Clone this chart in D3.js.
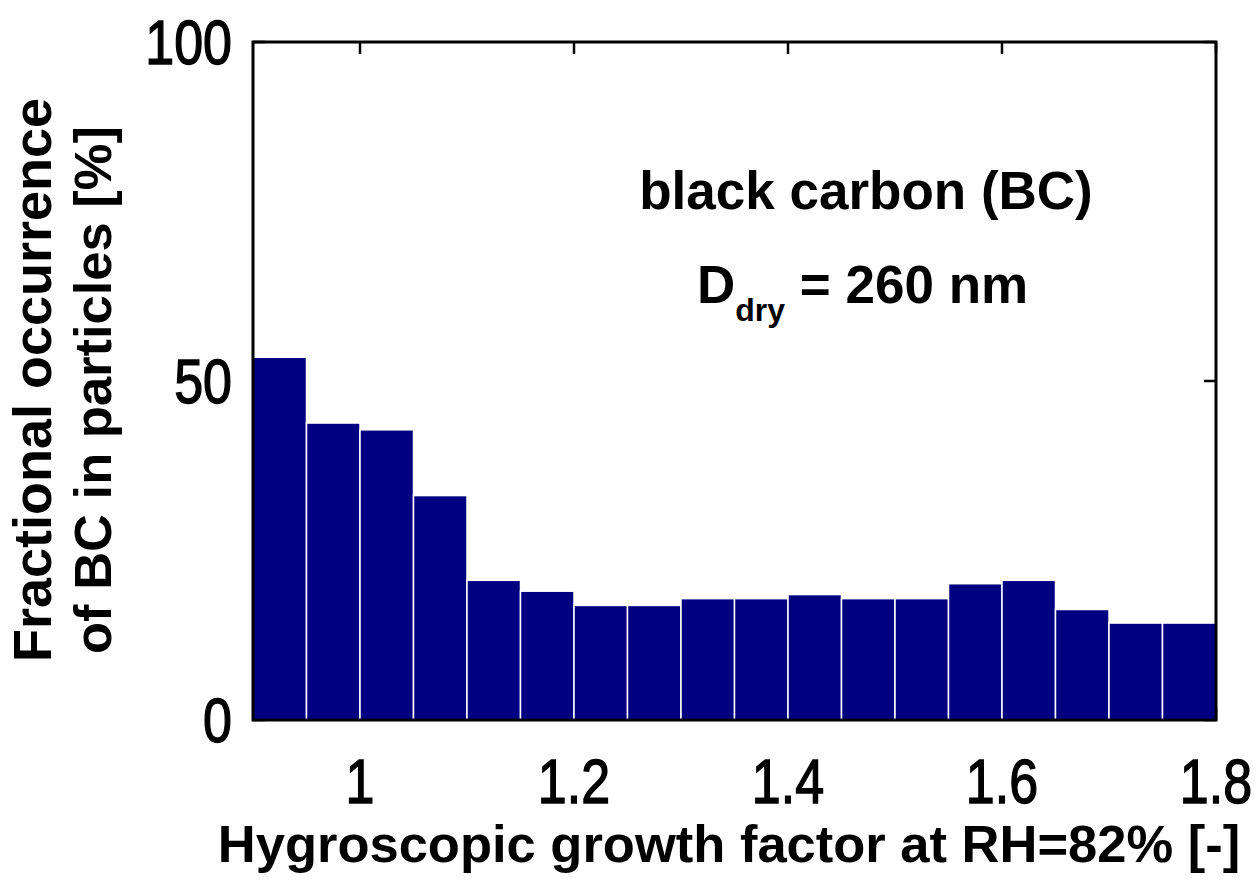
<!DOCTYPE html>
<html>
<head>
<meta charset="utf-8">
<script src="https://cdn.jsdelivr.net/npm/d3@7"></script>
<style>
  html, body { margin: 0; padding: 0; background: #fff; }
  svg { display: block; }
  text { font-family: "Liberation Sans", Arial, sans-serif; fill: #000; }
</style>
</head>
<body>
<svg id="chart" width="1256" height="894"></svg>
<script>
// ---- data ----
const binStarts = [0.90, 0.95, 1.00, 1.05, 1.10, 1.15, 1.20, 1.25, 1.30, 1.35, 1.40, 1.45, 1.50, 1.55, 1.60, 1.65, 1.70, 1.75];
const binWidth = 0.05;
const occurrence = [53.5, 43.8, 42.8, 33.1, 20.6, 19.0, 16.9, 16.9, 17.9, 17.9, 18.5, 17.9, 17.9, 20.1, 20.6, 16.3, 14.3, 14.3];
const xTicks = [1, 1.2, 1.4, 1.6, 1.8];
const xTickLabels = ["1", "1.2", "1.4", "1.6", "1.8"];
const yTicks = [0, 50, 100];
const yTickLabels = ["0", "50", "100"];
const xDomain = [0.9, 1.8];
const yDomain = [0, 100];
const xLabel = "Hygroscopic growth factor at RH=82% [-]";
const yLabel1 = "Fractional occurrence";
const yLabel2 = "of BC in particles [%]";
const note1 = "black carbon (BC)";

// ---- layout ----
const svg = d3.select("#chart");
const L = 253, R = 1216, T = 42, B = 720;
const x = d3.scaleLinear().domain(xDomain).range([L, R]);
const y = d3.scaleLinear().domain(yDomain).range([B, T]);

// inward ticks (drawn under bars)
const tickLen = 12;
const ticksG = svg.append("g").attr("stroke", "#000").attr("stroke-width", 2.5);
xTicks.forEach(t => {
  ticksG.append("line").attr("x1", x(t)).attr("x2", x(t)).attr("y1", B).attr("y2", B - tickLen);
  ticksG.append("line").attr("x1", x(t)).attr("x2", x(t)).attr("y1", T).attr("y2", T + tickLen);
});
yTicks.forEach(t => {
  ticksG.append("line").attr("x1", L).attr("x2", L + tickLen).attr("y1", y(t)).attr("y2", y(t));
  ticksG.append("line").attr("x1", R).attr("x2", R - tickLen).attr("y1", y(t)).attr("y2", y(t));
});

// bars
svg.append("g").selectAll("rect")
  .data(binStarts.map((s, i) => ({ s, v: occurrence[i] })))
  .join("rect")
  .attr("x", d => x(d.s))
  .attr("width", d => x(d.s + binWidth) - x(d.s))
  .attr("y", d => y(d.v))
  .attr("height", d => y(0) - y(d.v))
  .attr("fill", "#000080")
  .attr("stroke", "#ffffff")
  .attr("stroke-width", 1.5);

// frame
svg.append("rect")
  .attr("x", L).attr("y", T).attr("width", R - L).attr("height", B - T)
  .attr("fill", "none").attr("stroke", "#000").attr("stroke-width", 3);

// tick labels (tall, regular)
const tickFont = 52, stretchY = 1.2;
xTicks.forEach((t, i) => {
  svg.append("g").attr("transform", `translate(${x(t)},803) scale(1,${stretchY})`)
    .append("text").attr("text-anchor", "middle").attr("font-size", tickFont)
    .attr("stroke", "#000").attr("stroke-width", 1.2)
    .text(xTickLabels[i]);
});
yTicks.forEach((t, i) => {
  svg.append("g").attr("transform", `translate(232,${y(t) + 22}) scale(1,${stretchY})`)
    .append("text").attr("text-anchor", "end").attr("font-size", tickFont)
    .attr("stroke", "#000").attr("stroke-width", 1.2)
    .text(yTickLabels[i]);
});

// axis labels
svg.append("text").attr("x", 729).attr("y", 862)
  .attr("text-anchor", "middle").attr("font-size", 52.5).attr("font-weight", "bold")
  .text(xLabel);

svg.append("text").attr("transform", "translate(51,380) rotate(-90)")
  .attr("text-anchor", "middle").attr("font-size", 54).attr("font-weight", "bold")
  .text(yLabel1);
svg.append("text").attr("transform", "translate(111,390) rotate(-90)")
  .attr("text-anchor", "middle").attr("font-size", 52.5).attr("font-weight", "bold")
  .text(yLabel2);

// annotations
svg.append("text").attr("x", 866).attr("y", 209)
  .attr("text-anchor", "middle").attr("font-size", 53).attr("font-weight", "bold")
  .text(note1);

const n2 = svg.append("text").attr("x", 697).attr("y", 303)
  .attr("font-size", 53).attr("font-weight", "bold");
n2.append("tspan").text("D");
n2.append("tspan").attr("font-size", 32).attr("dy", 18).text("dry");
n2.append("tspan").attr("dy", -18).text(" = 260 nm");
</script>
</body>
</html>
